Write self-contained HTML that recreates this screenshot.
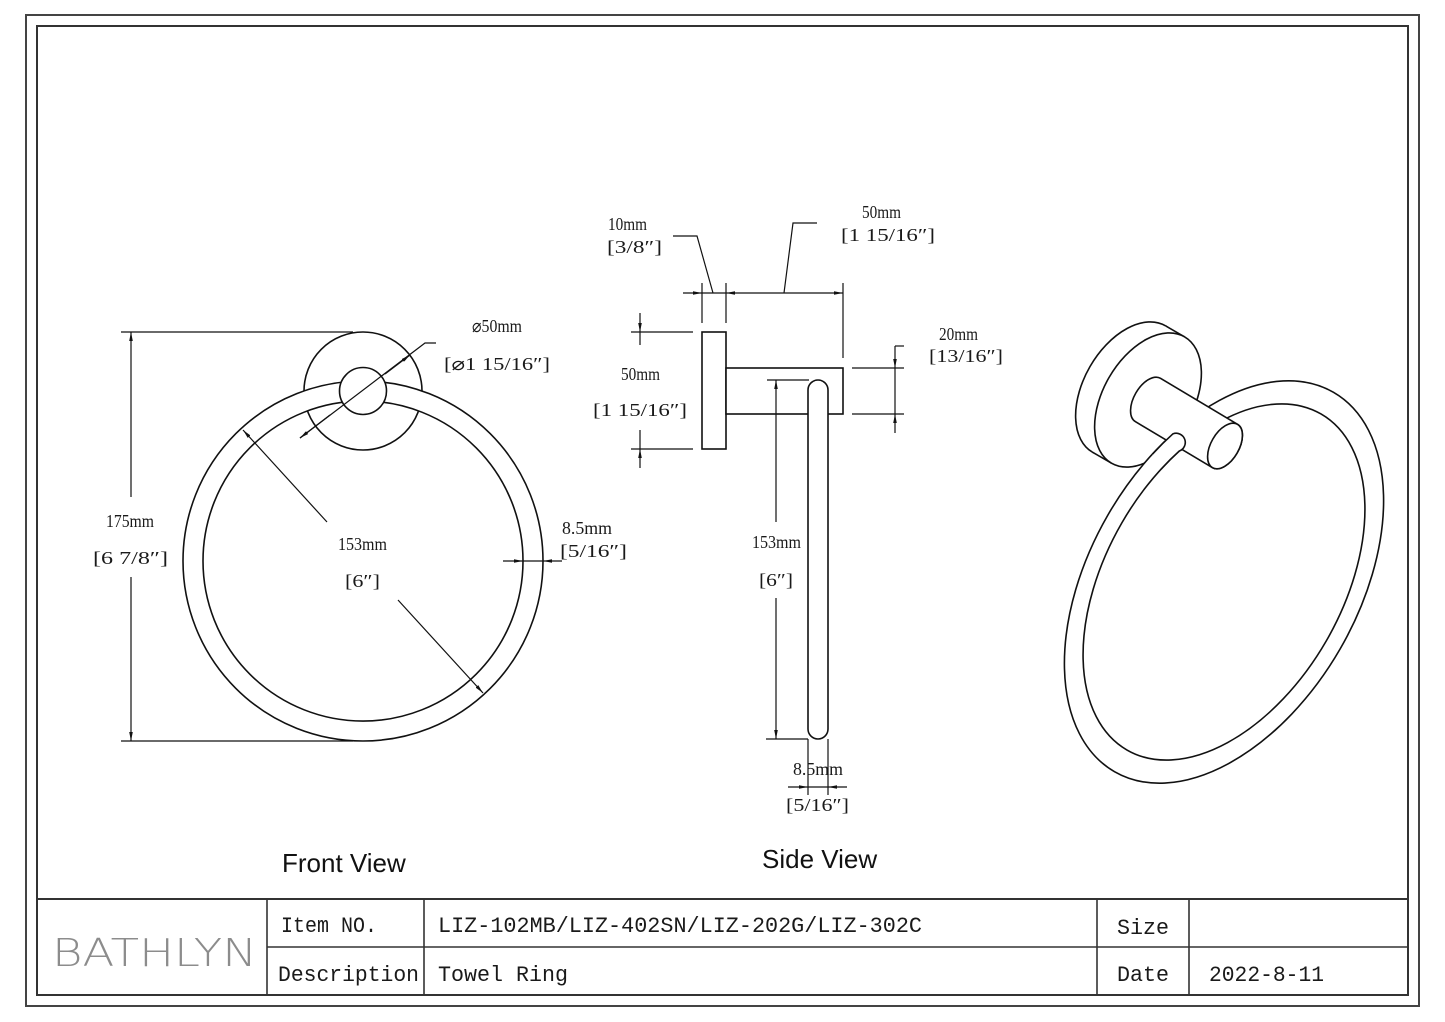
<!DOCTYPE html>
<html>
<head>
<meta charset="utf-8">
<style>
html,body{margin:0;padding:0;background:#fff;}
svg{display:block;}
.o{fill:#fff;stroke:#111;stroke-width:1.6;}
.l{fill:none;stroke:#111;stroke-width:1.5;}
.d{fill:none;stroke:#111;stroke-width:1.2;}
.t{font-family:"Liberation Serif","DejaVu Serif",serif;font-size:18px;fill:#1a1a1a;}
.m{font-family:"Liberation Mono","DejaVu Sans Mono",monospace;font-size:22px;fill:#1a1a1a;}
.v{font-family:"Liberation Sans","DejaVu Sans",sans-serif;font-size:26px;fill:#111;}
</style>
</head>
<body>
<svg width="1445" height="1022" viewBox="0 0 1445 1022" xmlns="http://www.w3.org/2000/svg">
<defs>
<marker id="ar" viewBox="0 0 10 4" refX="10" refY="2" markerWidth="9" markerHeight="3.6" markerUnits="userSpaceOnUse" orient="auto-start-reverse">
<path d="M0,0 L10,2 L0,4 z" fill="#111"/>
</marker>
</defs>
<rect x="0" y="0" width="1445" height="1022" fill="#fff"/>

<!-- borders -->
<rect x="26" y="15" width="1393" height="991" fill="none" stroke="#444" stroke-width="2"/>
<rect x="37" y="26" width="1371" height="969" fill="none" stroke="#333" stroke-width="2"/>

<!-- title block -->
<line x1="37" y1="899" x2="1408" y2="899" stroke="#333" stroke-width="2"/>
<line x1="267" y1="947" x2="1408" y2="947" stroke="#333" stroke-width="1.6"/>
<line x1="267" y1="899" x2="267" y2="995" stroke="#333" stroke-width="1.6"/>
<line x1="424" y1="899" x2="424" y2="995" stroke="#333" stroke-width="1.6"/>
<line x1="1097" y1="899" x2="1097" y2="995" stroke="#333" stroke-width="1.6"/>
<line x1="1189" y1="899" x2="1189" y2="995" stroke="#333" stroke-width="1.6"/>

<text x="52" y="966" textLength="205" lengthAdjust="spacingAndGlyphs" style="font-family:'DejaVu Sans','Liberation Sans',sans-serif;font-weight:200;font-size:38px;fill:#8c8c8c;">BATHLYN</text>
<text class="m" x="281" y="932" textLength="96" lengthAdjust="spacingAndGlyphs">Item NO.</text>
<text class="m" x="438" y="932" textLength="484" lengthAdjust="spacingAndGlyphs">LIZ-102MB/LIZ-402SN/LIZ-202G/LIZ-302C</text>
<text class="m" x="278" y="981" textLength="141" lengthAdjust="spacingAndGlyphs">Description</text>
<text class="m" x="438" y="981" textLength="130" lengthAdjust="spacingAndGlyphs">Towel Ring</text>
<text class="m" x="1117" y="934" textLength="52" lengthAdjust="spacingAndGlyphs">Size</text>
<text class="m" x="1117" y="981" textLength="52" lengthAdjust="spacingAndGlyphs">Date</text>
<text class="m" x="1209" y="981" textLength="115" lengthAdjust="spacingAndGlyphs">2022-8-11</text>

<text class="v" x="282" y="872">Front View</text>
<text class="v" x="762" y="868">Side View</text>

<!-- ================= FRONT VIEW ================= -->
<circle class="o" cx="363" cy="391" r="59"/>
<path class="o" fill-rule="evenodd" d="M183,561 A180,180 0 1 0 543,561 A180,180 0 1 0 183,561 Z M203,561 A160,160 0 1 0 523,561 A160,160 0 1 0 203,561 Z"/>
<circle class="o" cx="363" cy="391" r="23.5"/>

<!-- 175 dimension -->
<line class="d" x1="121" y1="332" x2="353" y2="332"/>
<line class="d" x1="121" y1="741" x2="353" y2="741"/>
<line class="d" x1="131" y1="497" x2="131" y2="332" marker-end="url(#ar)"/>
<line class="d" x1="131" y1="577" x2="131" y2="741" marker-end="url(#ar)"/>
<text class="t" x="106" y="527" textLength="48" lengthAdjust="spacingAndGlyphs">175mm</text>
<text class="t" x="93" y="564" textLength="75" lengthAdjust="spacingAndGlyphs">[6 7/8″]</text>

<!-- diameter 50 -->
<polyline class="d" points="300,438 425,343 436,343"/>
<line class="d" x1="330" y1="415" x2="300" y2="438" marker-end="url(#ar)"/>
<line class="d" x1="385" y1="374" x2="410" y2="355" marker-end="url(#ar)"/>
<text class="t" x="472" y="332" textLength="50" lengthAdjust="spacingAndGlyphs">⌀50mm</text>
<text class="t" x="444" y="370" textLength="106" lengthAdjust="spacingAndGlyphs">[⌀1 15/16″]</text>

<!-- 153 diameter -->
<line class="d" x1="327" y1="522" x2="243" y2="430" marker-end="url(#ar)"/>
<line class="d" x1="398" y1="600" x2="483" y2="693" marker-end="url(#ar)"/>
<text class="t" x="338" y="550" textLength="49" lengthAdjust="spacingAndGlyphs">153mm</text>
<text class="t" x="345" y="587" textLength="35" lengthAdjust="spacingAndGlyphs">[6″]</text>

<!-- 8.5 -->
<line class="d" x1="503" y1="561" x2="523" y2="561" marker-end="url(#ar)"/>
<line class="d" x1="523" y1="561" x2="543" y2="561"/>
<line class="d" x1="562" y1="561" x2="543" y2="561" marker-end="url(#ar)"/>
<text class="t" x="562" y="534" textLength="50" lengthAdjust="spacingAndGlyphs">8.5mm</text>
<text class="t" x="560" y="557" textLength="67" lengthAdjust="spacingAndGlyphs">[5/16″]</text>

<!-- ================= SIDE VIEW ================= -->
<rect class="o" x="702" y="332" width="24" height="117"/>
<rect class="o" x="726" y="368" width="117" height="46"/>
<path class="o" d="M808,390 A10,10 0 0 1 828,390 L828,729 A10,10 0 0 1 808,729 Z"/>

<!-- top dims -->
<line class="d" x1="702" y1="283" x2="702" y2="323"/>
<line class="d" x1="726" y1="283" x2="726" y2="323"/>
<line class="d" x1="843" y1="283" x2="843" y2="358"/>
<line class="d" x1="683" y1="293" x2="702" y2="293" marker-end="url(#ar)"/>
<line class="d" x1="702" y1="293" x2="726" y2="293"/>
<line class="d" x1="726" y1="293" x2="843" y2="293" marker-start="url(#ar)" marker-end="url(#ar)"/>
<polyline class="d" points="713,293 697,236 673,236"/>
<polyline class="d" points="784,293 793,223 817,223"/>
<text class="t" x="608" y="230" textLength="39" lengthAdjust="spacingAndGlyphs">10mm</text>
<text class="t" x="607" y="253" textLength="55" lengthAdjust="spacingAndGlyphs">[3/8″]</text>
<text class="t" x="862" y="218" textLength="39" lengthAdjust="spacingAndGlyphs">50mm</text>
<text class="t" x="841" y="241" textLength="94" lengthAdjust="spacingAndGlyphs">[1 15/16″]</text>

<!-- left 50 -->
<line class="d" x1="631" y1="332" x2="693" y2="332"/>
<line class="d" x1="631" y1="449" x2="693" y2="449"/>
<line class="d" x1="640" y1="313" x2="640" y2="332" marker-end="url(#ar)"/>
<line class="d" x1="640" y1="332" x2="640" y2="345"/>
<line class="d" x1="640" y1="468" x2="640" y2="449" marker-end="url(#ar)"/>
<line class="d" x1="640" y1="449" x2="640" y2="430"/>
<text class="t" x="621" y="380" textLength="39" lengthAdjust="spacingAndGlyphs">50mm</text>
<text class="t" x="593" y="416" textLength="94" lengthAdjust="spacingAndGlyphs">[1 15/16″]</text>

<!-- right 20 -->
<line class="d" x1="852" y1="368" x2="904" y2="368"/>
<line class="d" x1="852" y1="414" x2="904" y2="414"/>
<line class="d" x1="895" y1="346" x2="904" y2="346"/>
<line class="d" x1="895" y1="346" x2="895" y2="368" marker-end="url(#ar)"/>
<line class="d" x1="895" y1="368" x2="895" y2="414"/>
<line class="d" x1="895" y1="433" x2="895" y2="414" marker-end="url(#ar)"/>
<text class="t" x="939" y="340" textLength="39" lengthAdjust="spacingAndGlyphs">20mm</text>
<text class="t" x="929" y="362" textLength="74" lengthAdjust="spacingAndGlyphs">[13/16″]</text>

<!-- 153 side -->
<line class="d" x1="767" y1="380" x2="809" y2="380"/>
<line class="d" x1="766" y1="739" x2="808" y2="739"/>
<line class="d" x1="776" y1="522" x2="776" y2="380" marker-end="url(#ar)"/>
<line class="d" x1="776" y1="598" x2="776" y2="739" marker-end="url(#ar)"/>
<text class="t" x="752" y="548" textLength="49" lengthAdjust="spacingAndGlyphs">153mm</text>
<text class="t" x="759" y="586" textLength="34" lengthAdjust="spacingAndGlyphs">[6″]</text>

<!-- 8.5 bottom -->
<line class="d" x1="808" y1="739" x2="808" y2="795"/>
<line class="d" x1="828" y1="739" x2="828" y2="795"/>
<line class="d" x1="788" y1="787" x2="808" y2="787" marker-end="url(#ar)"/>
<line class="d" x1="808" y1="787" x2="828" y2="787"/>
<line class="d" x1="847" y1="787" x2="828" y2="787" marker-end="url(#ar)"/>
<text class="t" x="793" y="775" textLength="50" lengthAdjust="spacingAndGlyphs">8.5mm</text>
<text class="t" x="786" y="811" textLength="63" lengthAdjust="spacingAndGlyphs">[5/16″]</text>

<!-- ================= ISO VIEW ================= -->
<!-- flange -->
<ellipse class="o" cx="1129" cy="389" rx="73" ry="45" transform="rotate(-60 1129 389)"/>
<polygon points="1165.5,325.8 1184.5,336.8 1111.5,463.2 1092.5,452.2" fill="#fff" stroke="none"/>
<line class="l" x1="1165.5" y1="325.8" x2="1184.5" y2="336.8"/>
<line class="l" x1="1092.5" y1="452.2" x2="1111.5" y2="463.2"/>
<ellipse class="o" cx="1148" cy="400" rx="73" ry="45" transform="rotate(-60 1148 400)"/>

<!-- ring -->
<g transform="translate(1224,582) rotate(-60)">
<path class="o" fill-rule="evenodd" d="M-219,0 A219,134 0 1 0 219,0 A219,134 0 1 0 -219,0 Z M-194,0 A194,118 0 1 0 194,0 A194,118 0 1 0 -194,0 Z"/>
</g>

<!-- arm -->
<path class="o" d="M1160.5,378.3 L1237.5,424.3 A25,14 -60 0 1 1212.5,467.7 L1135.5,421.7 A25,14 -60 0 1 1160.5,378.3 Z"/>
<ellipse class="o" cx="1225" cy="446" rx="25" ry="14" transform="rotate(-60 1225 446)"/>

<!-- ring tube end cap in front of arm -->
<g transform="translate(1224,582) rotate(-60)">
<path d="M74.9,-125.9 A219,134 0 0 1 102.8,-118.3 A9.16,9.16 0 0 1 91.1,-104.2 A194,118 0 0 0 66.4,-110.9 Z" fill="#fff" stroke="none"/>
<path d="M74.9,-125.9 A219,134 0 0 1 102.8,-118.3 A9.16,9.16 0 0 1 91.1,-104.2 A194,118 0 0 0 66.4,-110.9" fill="none" stroke="#111" stroke-width="1.6"/>
</g>
</svg>
</body>
</html>
